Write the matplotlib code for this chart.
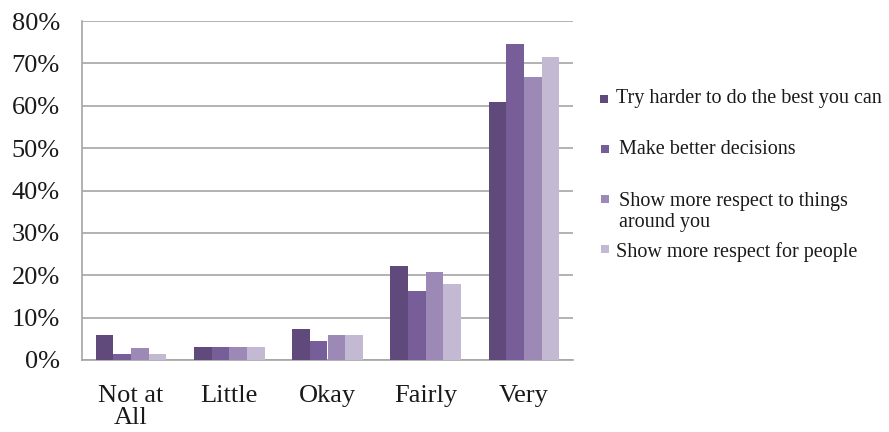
import matplotlib
matplotlib.use("Agg")
import matplotlib.pyplot as plt
from matplotlib.patches import Rectangle
import numpy as np

categories = ["Not at\nAll", "Little", "Okay", "Fairly", "Very"]
series_names = [
    "Try harder to do the best you can",
    "Make better decisions",
    "Show more respect to things\naround you",
    "Show more respect for people",
]
try_harder = [6.0, 3.0, 7.2, 22.1, 61.0]
better_decisions = [1.4, 3.0, 4.5, 16.2, 74.5]
respect_things = [2.9, 3.0, 5.8, 20.8, 66.9]
respect_people = [1.4, 3.0, 5.8, 17.9, 71.4]
series_values = [try_harder, better_decisions, respect_things, respect_people]
y_ticks = [0, 10, 20, 30, 40, 50, 60, 70, 80]
y_tick_labels = ["0%", "10%", "20%", "30%", "40%", "50%", "60%", "70%", "80%"]

colors = ["#604A7B", "#775E99", "#9D89B6", "#C3B9D3"]
grid_color = "#A6A6A6"
serif = ["Liberation Serif", "DejaVu Serif"]

W, H = 889, 432
fig = plt.figure(figsize=(W / 100, H / 100), dpi=100)
ax = fig.add_axes([82 / W, 1 - 360 / H, (573 - 82) / W, (360 - 21) / H])

x = np.arange(len(categories))
bar_w = 0.18
for i, (vals, c) in enumerate(zip(series_values, colors)):
    offs = (i - 1.5) * bar_w
    ax.bar(x + offs, vals, width=bar_w, color=c, zorder=3, linewidth=0)

ax.set_xlim(-0.5, len(categories) - 0.5)
ax.set_ylim(0, 80)
ax.set_yticks(y_ticks)
ax.set_yticklabels(y_tick_labels, fontfamily=serif, fontsize=19)
ax.set_xticks(x)
ax.set_xticklabels(categories, fontfamily=serif, fontsize=19, linespacing=1.02)
ax.tick_params(axis="both", length=0)
ax.tick_params(axis="y", pad=16)
ax.tick_params(axis="x", pad=18)
for lbl in ax.get_yticklabels():
    lbl.set_color("#1a1a1a")
for lbl in ax.get_xticklabels():
    lbl.set_color("#1a1a1a")
    lbl.set_verticalalignment("top")

ax.yaxis.grid(True, color=grid_color, linewidth=1.2, zorder=0)
ax.xaxis.grid(False)
for side in ["top", "right"]:
    ax.spines[side].set_visible(False)
for side in ["left", "bottom"]:
    ax.spines[side].set_color(grid_color)
    ax.spines[side].set_linewidth(1.2)

# legend entries placed to the right of the plot area
legend_rows = [
    (600, 99, 616, 99),
    (601, 149, 619, 150),
    (601, 199, 619, 212),
    (601, 249, 616, 252),
]
sq = 8
for (mx, my, tx, ty), name, c in zip(legend_rows, series_names, colors):
    fig.patches.append(Rectangle((mx / W, 1 - (my + sq / 2) / H), sq / W, sq / H,
                                 transform=fig.transFigure, facecolor=c,
                                 edgecolor="none"))
    fig.text(tx / W, 1 - ty / H, name, fontfamily=serif, fontsize=14.5,
             color="#1a1a1a", va="center", ha="left", linespacing=1.08)

fig.savefig("out.png", dpi=100, facecolor="white")
